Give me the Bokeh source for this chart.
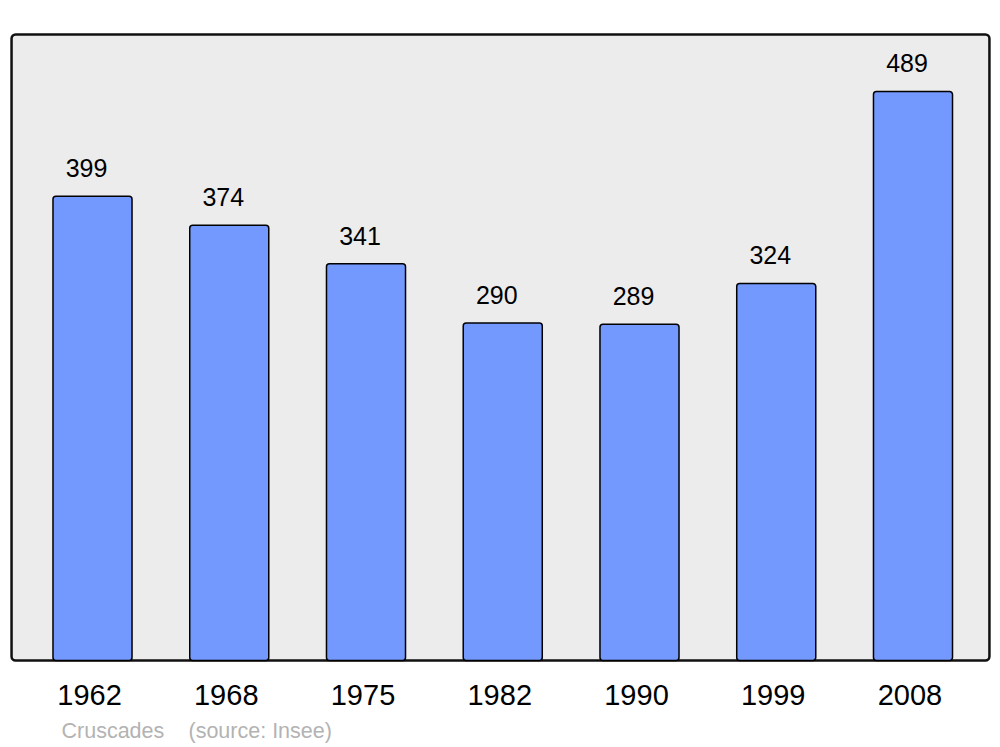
from bokeh.plotting import figure
from bokeh.models import Range1d, BoxAnnotation, Label, ColumnDataSource
from bokeh.core.properties import value
from bokeh.embed import file_html
from bokeh.resources import INLINE

years = ["1962", "1968", "1975", "1982", "1990", "1999", "2008"]
population = [399, 374, 341, 290, 289, 324, 489]
source_commune = "Cruscades"
source_note = "(source: Insee)"

xs = list(range(len(years)))
src = ColumnDataSource(dict(x=xs, top=population, lbl=[str(v) for v in population],
                            year=years, zero=[0] * len(years)))

# frame covers the whole canvas; the grey box is drawn inside it
p = figure(width=992, height=747, output_backend="svg", toolbar_location=None,
           x_range=Range1d(-0.6728, 6.5814), y_range=Range1d(-74.77, 567.2),
           min_border=0, min_border_left=0, min_border_right=0,
           min_border_top=0, min_border_bottom=0)
p.background_fill_color = "white"
p.border_fill_color = "white"
p.outline_line_color = None
p.grid.visible = False
p.axis.visible = False

frame = BoxAnnotation(left=-0.592, right=6.559, bottom=0, top=538,
                      fill_color="#ececec", fill_alpha=1, line_color="#111111",
                      line_alpha=1, line_width=2.5, border_radius=4, level="underlay")
p.add_layout(frame)

p.vbar(x="x", top="top", bottom=0, width=0.578, source=src, fill_color="#7399ff",
       line_color="black", line_width=1.5, border_radius=3)

p.text(x="x", y="top", text="lbl", source=src, x_offset=-6, y_offset=-28, text_align="center",
       text_baseline="middle", text_font=value("Liberation Sans"),
       text_font_size="25px", text_color="black")

p.text(x="x", y="zero", text="year", source=src, x_offset=-3, y_offset=35, text_align="center",
       text_baseline="middle", text_font=value("Liberation Sans"),
       text_font_size="29px", text_color="black")

p.add_layout(Label(x=-0.2267, y=-60.2, text=source_commune, text_font="Liberation Sans",
                   text_font_size="21.5px", text_color="#b3b3b3", text_baseline="middle",
                   text_align="left"))
p.add_layout(Label(x=0.702, y=-60.2, text=source_note, text_font="Liberation Sans",
                   text_font_size="21.5px", text_color="#b3b3b3", text_baseline="middle",
                   text_align="left"))

open("out.html", "w").write(file_html(p, INLINE))
